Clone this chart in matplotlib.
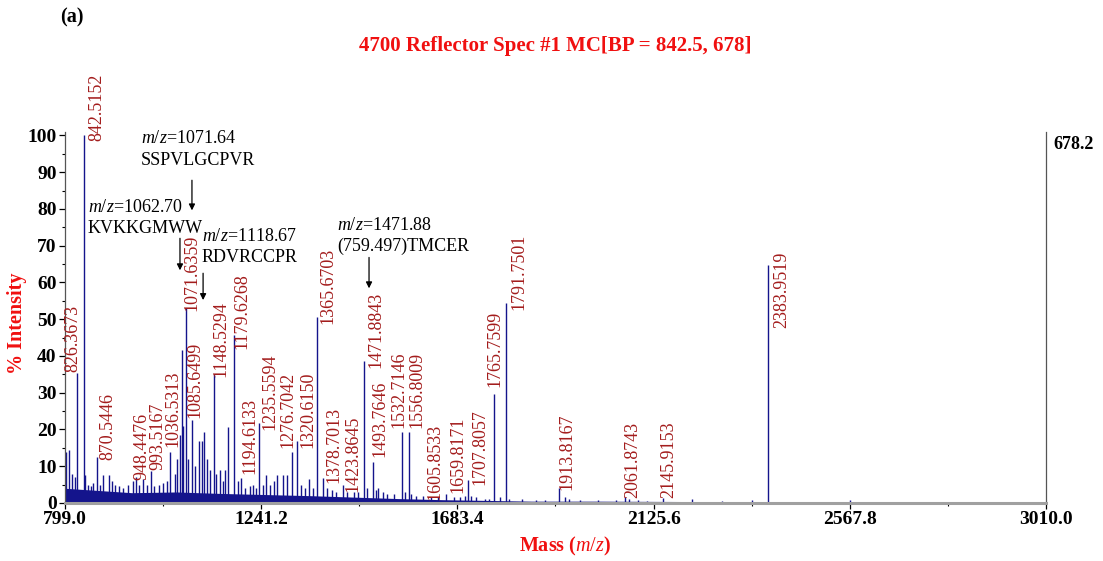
#!/usr/bin/env python3
"""MALDI reflector spectrum, panel (a)."""

import matplotlib

matplotlib.use("Agg")
import matplotlib.pyplot as plt
from matplotlib.ticker import MultipleLocator, FixedLocator

plt.rcParams["font.family"] = ["Liberation Serif", "DejaVu Serif"]
plt.rcParams["mathtext.fontset"] = "custom"
plt.rcParams["mathtext.rm"] = "Liberation Serif"
plt.rcParams["mathtext.it"] = "Liberation Serif:italic"
plt.rcParams["mathtext.bf"] = "Liberation Serif:bold"

# peaks: m/z position and % intensity
peak_mz = [
    801, 808, 815, 822, 825.5, 842, 845, 852, 858, 862, 870.4, 878, 885, 899,
    905, 912, 920, 930, 940, 953, 959, 966, 975, 985, 994, 1000, 1010, 1020,
    1028, 1036, 1046, 1052, 1058, 1062, 1065, 1071.5, 1076, 1086, 1093, 1100,
    1107, 1112, 1118, 1125, 1134, 1140, 1148, 1155, 1160, 1167, 1180.5, 1188,
    1195.7, 1205, 1215, 1222, 1230, 1236, 1245, 1253, 1262, 1270, 1277, 1290,
    1300, 1310, 1321, 1330, 1340, 1349, 1358, 1366, 1380, 1390, 1400, 1410,
    1425, 1435, 1450, 1460, 1473, 1480, 1494, 1500, 1505, 1515, 1525, 1540,
    1557.5, 1565, 1574, 1580, 1590, 1606, 1625, 1640, 1658, 1675, 1690, 1700,
    1708, 1715, 1725, 1745, 1755, 1766, 1780, 1792, 1800, 1830, 1860, 1880,
    1913, 1925, 1935, 1960, 2000, 2040, 2062, 2070, 2090, 2110, 2146, 2213,
    2280, 2347, 2384, 2568, 2700, 2900,
]
peak_pct = [
    14, 14.4, 8, 7, 35.3, 100, 7.6, 5, 4.5, 5.5, 12.5, 5, 7.5, 7.6,
    6, 5, 4.5, 4, 5, 6, 7, 5, 6.6, 5, 8.8, 4.5, 5, 5.5,
    6, 13.8, 8, 12, 18.5, 41.6, 21, 53, 12, 22.6, 10, 17,
    17, 19.4, 12, 9, 35, 8, 9, 6, 9, 20.7, 45.7, 6,
    6.7, 4, 4.5, 5, 4, 21.8, 5, 7.5, 5, 6, 7.6, 7.6,
    7.6, 14, 17, 5, 4, 6.4, 4, 50.6, 6.9, 4, 3.5, 3,
    4.9, 3, 3, 3, 38.7, 4, 11.2, 3.5, 4, 3, 2.5, 2.5,
    19.3, 3, 19.3, 2.5, 2, 2, 1.5, 1.5, 2.5, 1.5, 1.5, 2,
    6.2, 2, 1.5, 1.2, 1, 29.6, 1.5, 54.4, 1, 1, 0.8, 0.7,
    4, 1.5, 1, 0.8, 0.7, 0.8, 1.7, 1.2, 0.8, 0.6, 1.4, 1,
    0.6, 0.8, 64.7, 0.8, 0.4, 0.4,
]

# noise floor of the trace
base_mz = [799, 800, 850, 950, 1050, 1150, 1250, 1350, 1450, 1550, 1650,
           1750, 1850, 2000, 2100, 2300, 2600, 3010]
base_pct = [0, 4.0, 3.6, 2.8, 3.0, 2.6, 2.3, 2.0, 1.6, 1.2, 0.9,
            0.7, 0.5, 0.5, 0.45, 0.35, 0.35, 0.3]

# peak labels: text, centre m/z, bottom % of the rotated text
label_txt = [
    "826.3673", "842.5152", "870.5446", "948.4476", "993.5167", "1036.5313",
    "1071.6359", "1085.6499", "1148.5294", "1179.6268", "1194.6133",
    "1235.5594", "1276.7042", "1320.6150", "1365.6703", "1378.7013",
    "1423.8645", "1471.8843", "1493.7646", "1532.7146", "1556.8009",
    "1605.8533", "1659.8171", "1707.8057", "1765.7599", "1791.7501",
    "1913.8167", "2061.8743", "2145.9153", "2383.9519",
]
label_mz = [
    816.4, 870.4, 896.7, 971.5, 1007.5, 1043, 1084.5, 1092, 1150.6, 1197, 1216,
    1261, 1302, 1347.4, 1392.5, 1405, 1448.8, 1500, 1509, 1552.5, 1591.6,
    1633, 1684, 1734, 1768, 1823, 1929.7, 2078.5, 2158.8, 2414,
]
label_pct = [
    35.7, 98.6, 11.7, 6.3, 9, 15.3, 52.3, 23, 34.3, 42, 8, 19.8, 14.9, 14.9,
    48.8, 5.4, 3.1, 36.6, 12.6, 20.3, 20.3, 0.8, 2.6, 4.9, 31.6, 52.4, 3.5,
    1.3, 1.3, 47.5,
]

# identified peptides: first line, second line, text left m/z, line 1 %, arrow
pep_mz_line = [r"$\mathit{m/z}$=1071.64", r"$\mathit{m/z}$=1062.70",
               r"$\mathit{m/z}$=1118.67", r"$\mathit{m/z}$=1471.88"]
pep_seq = ["SSPVLGCPVR", "KVKKGMWW", "RDVRCCPR", "(759.497)TMCER"]
pep_text_mz = [969.5, 850.6, 1107.8, 1412]
pep_text_pct = [99.1, 80.5, 72.6, 75.5]
pep_arrow_mz = [1085.2, 1058.2, 1110.3, 1484.3]
pep_arrow_from = [87.8, 72.0, 62.5, 66.8]
pep_arrow_to = [79.6, 63.3, 55.2, 58.4]

x_ticks = [799.0, 1241.2, 1683.4, 2125.6, 2567.8, 3010.0]

TRACE = "#14148c"
LABEL_RED = "#a31c1c"
RED = "#f01010"

fig = plt.figure(figsize=(11.03, 5.61), dpi=100)
ax = fig.add_axes([0.0589, 0.1034, 0.8894, 0.6618])

ax.fill_between(base_mz, 0, base_pct, color=TRACE, lw=0)
ax.vlines(peak_mz, 0, peak_pct, color=TRACE, lw=1.0)

for txt, mx, my in zip(label_txt, label_mz, label_pct):
    ax.text(mx, my, txt, rotation=90, ha="center", va="bottom",
            fontsize=13, color=LABEL_RED)

for l1, l2, tx, ty, axm, a0, a1 in zip(pep_mz_line, pep_seq, pep_text_mz,
                                       pep_text_pct, pep_arrow_mz,
                                       pep_arrow_from, pep_arrow_to):
    ax.text(tx, ty, l1, ha="left", va="center", fontsize=13)
    ax.text(tx, ty - 5.8, l2, ha="left", va="center", fontsize=13)
    ax.annotate("", xy=(axm, a1), xytext=(axm, a0),
                arrowprops=dict(arrowstyle="-|>", color="black", lw=0.9,
                                mutation_scale=9, shrinkA=0, shrinkB=0))

ax.set_xlim(799.0, 3010.0)
ax.set_ylim(0, 101)
ax.xaxis.set_major_locator(FixedLocator(x_ticks))
ax.xaxis.set_minor_locator(FixedLocator(
    [(a + b) / 2 for a, b in zip(x_ticks[:-1], x_ticks[1:])]))
ax.set_xticklabels([f"{t:.1f}" for t in x_ticks])
ax.yaxis.set_major_locator(MultipleLocator(10))
ax.yaxis.set_minor_locator(MultipleLocator(5))

ax.tick_params(axis="both", which="major", length=4, width=0.9,
               labelsize=14, direction="out")
ax.tick_params(axis="both", which="minor", length=2.5, width=0.8,
               direction="out")
ax.tick_params(axis="x", pad=2)
ax.tick_params(axis="y", pad=2)
for lab in ax.get_xticklabels() + ax.get_yticklabels():
    lab.set_fontweight("bold")

ax.spines["top"].set_visible(False)
ax.spines["bottom"].set_color("#a0a0a0")
ax.spines["bottom"].set_linewidth(2.2)
ax.spines["left"].set_color("#555555")
ax.spines["right"].set_color("#555555")
ax.spines["left"].set_linewidth(0.9)
ax.spines["right"].set_linewidth(0.9)

ax.set_xlabel(r"Mass ($\mathbf{\mathit{m/z}}$)", color=RED, fontsize=14.5,
              fontweight="bold")
ax.set_ylabel("% Intensity", color=RED, fontsize=14.5, fontweight="bold")
ax.xaxis.set_label_coords(0.51, -0.085)
ax.yaxis.set_label_coords(-0.039, 0.485)

fig.text(0.503, 0.918, "4700 Reflector Spec #1 MC[BP = 842.5, 678]",
         ha="center", va="center", color=RED, fontsize=15, fontweight="bold")
fig.text(0.0544, 0.968, "(a)", ha="left", va="center", fontsize=14.5,
         fontweight="bold")
fig.text(0.955, 0.742, "678.2", ha="left", va="center", fontsize=13,
         fontweight="bold")

fig.savefig("out.png", dpi=100)
